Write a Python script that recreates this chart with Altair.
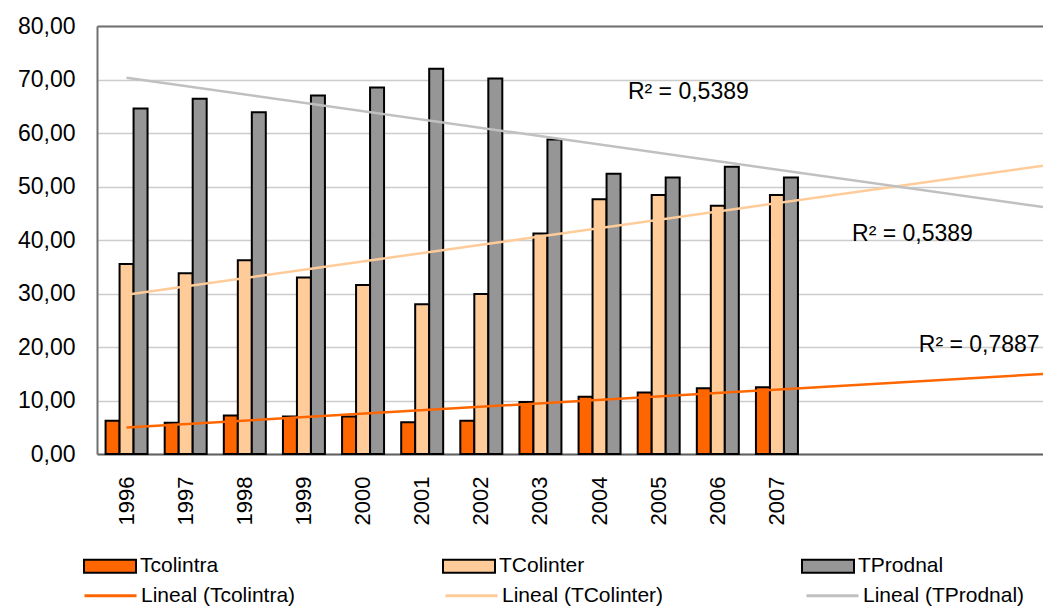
import altair as alt
import pandas as pd

# ---------------- data ----------------
years = [1996, 1997, 1998, 1999, 2000, 2001, 2002, 2003, 2004, 2005, 2006, 2007]
# Excel extends the category axis for the 4 forecast periods of the trendlines
forecast_years = [2008, 2009, 2010, 2011]
series = ["Tcolintra", "TColinter", "TProdnal"]
tcolintra = [6.2, 5.85, 7.2, 7.0, 7.0, 5.95, 6.2, 9.7, 10.7, 11.5, 12.3, 12.5]
tcolinter = [35.5, 33.8, 36.2, 33.0, 31.6, 28.0, 29.9, 41.2, 47.6, 48.4, 46.4, 48.4]
tprodnal = [64.6, 66.4, 63.9, 67.0, 68.5, 72.0, 70.2, 58.8, 52.4, 51.7, 53.7, 51.7]
trend_names = ["Lineal (Tcolintra)", "Lineal (TColinter)", "Lineal (TProdnal)"]
r2_texts = ["R² = 0,5389", "R² = 0,5389", "R² = 0,7887"]
y_ticks = [0, 10, 20, 30, 40, 50, 60, 70, 80]

# annotation anchors (in axis units: category index, value)
r2_x = [8.48, 12.27, 13.40]
r2_y = [67.7, 41.1, 20.4]

bar_colors = ["#FF6600", "#FFCC99", "#969696"]
line_colors = ["#FF6600", "#FFCC99", "#C0C0C0"]

rows = []
for s, vals in zip(series, [tcolintra, tcolinter, tprodnal]):
    for yr, v in zip(years, vals):
        rows.append({"year": yr, "serie": s, "value": v})
df = pd.DataFrame(rows)
ann = pd.DataFrame({"label": r2_texts, "xi": r2_x, "value": r2_y})

n_cat = len(years) + len(forecast_years)
FONT = "Liberation Sans"

y_scale = alt.Scale(domain=[0, 80], nice=False, zero=True)
y_axis = alt.Axis(
    values=y_ticks,
    labelExpr="replace(format(datum.value, '.2f'), '.', ',')",
    labelFontSize=23,
    labelColor="black",
    labelPadding=22,
    ticks=False,
    grid=True,
    gridColor="#CCCCCC",
    gridWidth=1.5,
    domainColor="#707070",
    domainWidth=2,
    title=None,
)
idx_scale = alt.Scale(domain=[-0.5, n_cat - 0.5], nice=False, zero=False)

bars = alt.Chart(df).mark_bar(stroke="black", strokeWidth=2).encode(
    x=alt.X(
        "year:O",
        scale=alt.Scale(domain=years + forecast_years, paddingInner=0.29, paddingOuter=0.145),
        axis=alt.Axis(
            labelAngle=-90,
            labelFontSize=22,
            labelColor="black",
            labelPadding=22,
            ticks=False,
            grid=False,
            domainColor="#606060",
            domainWidth=2,
            labelExpr="datum.value <= 2007 ? datum.label : ''",
            title=None,
        ),
    ),
    xOffset=alt.XOffset("serie:N", sort=series, scale=alt.Scale(domain=series, paddingInner=0, paddingOuter=0)),
    y=alt.Y("value:Q", scale=y_scale, axis=y_axis),
    fill=alt.Fill(
        "serie:N",
        scale=alt.Scale(domain=series, range=bar_colors),
        legend=alt.Legend(
            orient="none",
            legendX=-14,
            legendY=513,
            direction="horizontal",
            columns=3,
            gridAlign="all",
            columnPadding=213,
            title=None,
            symbolType="M-1,-0.25L1,-0.25L1,0.25L-1,0.25Z",
            symbolSize=2704,
            symbolStrokeColor="black",
            symbolStrokeWidth=2,
            symbolOpacity=1,
            labelFontSize=21,
            labelColor="black",
            labelOffset=3,
            labelLimit=400,
            padding=0,
        ),
    ),
)

lines = (
    alt.Chart(df)
    .transform_calculate(idx="datum.year - 1996")
    .transform_regression("idx", "value", groupby=["serie"], extent=[0, n_cat - 0.5])
    .transform_calculate(trend="'Lineal (' + datum.serie + ')'")
    .mark_line(strokeWidth=2.5)
    .encode(
        x=alt.X(
            "idx:Q",
            scale=idx_scale,
            axis=alt.Axis(
                orient="top",
                labels=False,
                ticks=False,
                grid=False,
                domainColor="#707070",
                domainWidth=2,
                title=None,
            ),
        ),
        y=alt.Y("value:Q", scale=y_scale, axis=y_axis),
        detail="serie:N",
        stroke=alt.Stroke(
            "trend:N",
            scale=alt.Scale(domain=trend_names, range=line_colors),
            legend=alt.Legend(
                orient="none",
                legendX=-14,
                legendY=542,
                direction="horizontal",
                columns=3,
                gridAlign="all",
                columnPadding=136,
                title=None,
                symbolType="stroke",
                symbolSize=2704,
                symbolStrokeWidth=3,
                labelFontSize=21,
                labelColor="black",
                labelOffset=3,
                labelLimit=400,
                padding=0,
            ),
        ),
    )
)

labels = alt.Chart(ann).mark_text(
    align="left", baseline="middle", fontSize=23, color="black", font=FONT
).encode(
    x=alt.X("xi:Q", scale=idx_scale, axis=None),
    y=alt.Y("value:Q", scale=y_scale, axis=y_axis),
    text="label:N",
)

chart = (
    alt.layer(bars, lines, labels)
    .resolve_scale(x="independent")
    .properties(
        width=946,
        height=428,
        autosize=alt.AutoSizeParams(type="none"),
        padding={"left": 89, "top": 18, "right": 0, "bottom": 154},
    )
    .configure(font=FONT)
    .configure_view(stroke=None)
)

chart.save("out.html", embed_options={"renderer": "svg", "actions": False})
